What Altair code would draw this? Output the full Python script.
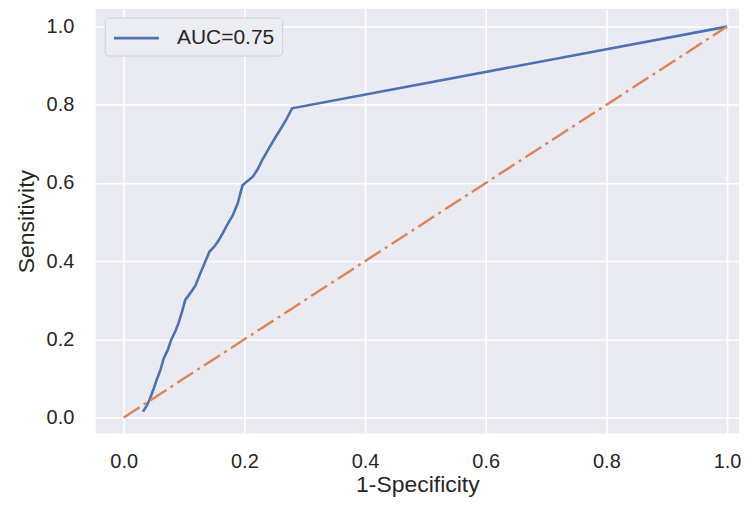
import altair as alt
import pandas as pd

# ROC curve values
fpr = [0.032, 0.038, 0.043, 0.050, 0.055, 0.061, 0.066, 0.073, 0.079, 0.086,
       0.091, 0.097, 0.102, 0.112, 0.119, 0.126, 0.134, 0.142, 0.150, 0.157,
       0.164, 0.172, 0.181, 0.189, 0.197, 0.206, 0.214, 0.222, 0.230, 0.239,
       0.248, 0.258, 0.268, 0.279, 1.0]
tpr = [0.015, 0.030, 0.046, 0.075, 0.098, 0.122, 0.150, 0.173, 0.200, 0.222,
       0.242, 0.272, 0.301, 0.322, 0.338, 0.365, 0.395, 0.424, 0.437, 0.452,
       0.471, 0.494, 0.518, 0.548, 0.594, 0.606, 0.616, 0.635, 0.660, 0.684,
       0.708, 0.733, 0.758, 0.791, 1.0]
diag_x = [0.0, 1.0]
diag_y = [0.0, 1.0]
legend_label = "AUC=0.75"
tick_values = [0.0, 0.2, 0.4, 0.6, 0.8, 1.0]

roc = pd.DataFrame({"fpr": fpr, "tpr": tpr, "idx": list(range(len(fpr))),
                    "label": [legend_label] * len(fpr)})
diag = pd.DataFrame({"fpr": diag_x, "tpr": diag_y, "idx": [0, 1]})

FONT = "Liberation Sans"
TXT = "#262626"

x_scale = alt.Scale(domain=[-0.0463, 1.0198], nice=False, zero=False)
y_scale = alt.Scale(domain=[-0.0408, 1.0459], nice=False, zero=False)

x_axis = alt.Axis(values=tick_values, format=".1f", title="1-Specificity",
                  grid=True, ticks=False, domain=False, labelPadding=18,
                  titlePadding=2)
y_axis = alt.Axis(values=tick_values, format=".1f", title="Sensitivity",
                  grid=True, ticks=False, domain=False, labelPadding=22,
                  titlePadding=8)

roc_line = alt.Chart(roc).mark_line(strokeWidth=2.6).encode(
    x=alt.X("fpr:Q", scale=x_scale, axis=x_axis),
    y=alt.Y("tpr:Q", scale=y_scale, axis=y_axis),
    order="idx:Q",
    color=alt.Color("label:N",
                    scale=alt.Scale(domain=[legend_label], range=["#4C72B0"]),
                    legend=alt.Legend(title=None, orient="top-left", offset=9,
                                      symbolType="M-1,0L3,0", symbolSize=506,
                                      symbolStrokeWidth=2.6, labelOffset=39,
                                      labelFontSize=21, labelFont=FONT,
                                      labelColor=TXT, padding=7.5,
                                      fillColor="#ECECF3", strokeColor="#CFCFD6",
                                      cornerRadius=4)),
)

diag_line = alt.Chart(diag).mark_line(strokeWidth=2.4, color="#DD8452",
                                      strokeDash=[19, 5, 3, 5]).encode(
    x=alt.X("fpr:Q", scale=x_scale),
    y=alt.Y("tpr:Q", scale=y_scale),
    order="idx:Q",
)

chart = alt.layer(roc_line, diag_line).properties(
    width=645, height=426,
    padding={"left": 7, "top": 0, "right": 0, "bottom": 0},
    background="white",
).configure_view(
    fill="#EAEAF2", stroke=None
).configure_axis(
    gridColor="white", gridWidth=1.6, gridOpacity=1,
    labelFont=FONT, labelFontSize=20, labelColor=TXT,
    titleFont=FONT, titleFontSize=23, titleColor=TXT, titleFontWeight="normal",
)

chart.save("out.html", embed_options={"renderer": "svg", "actions": False})
